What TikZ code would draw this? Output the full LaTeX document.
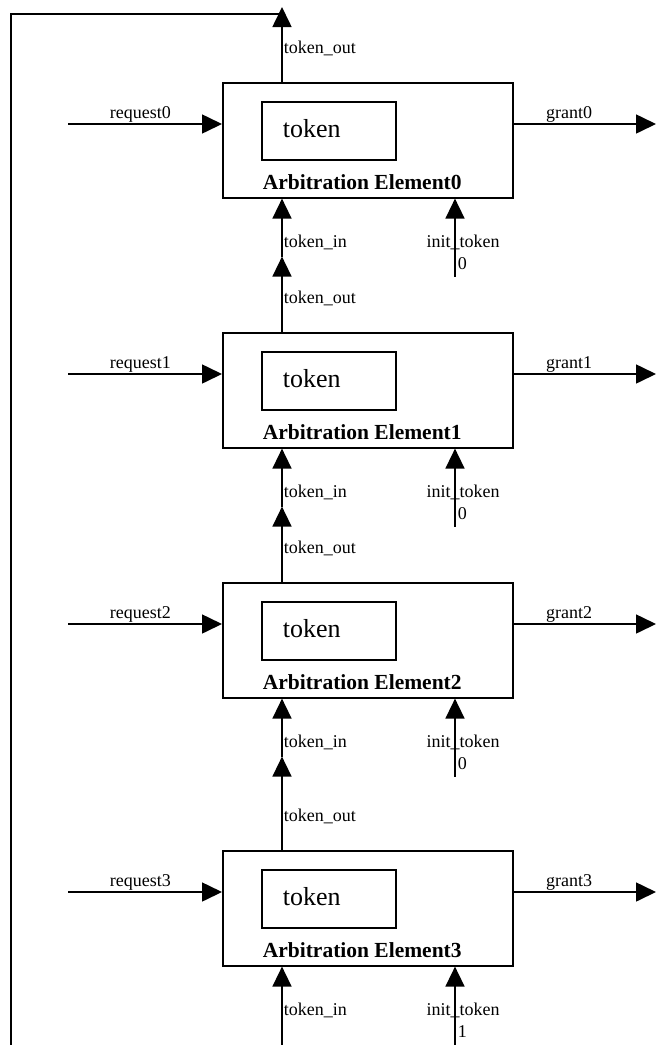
\documentclass[tikz,border=0pt]{standalone}
\usepackage{fontspec}
\setmainfont{Liberation Serif}
\usetikzlibrary{arrows.meta,positioning}
\tikzset{
  elem/.style = {draw, line width=1.6pt, minimum width=290pt,
    minimum height=115pt, inner sep=0pt},% arbitration element
  tokbox/.style = {draw, line width=1.6pt, minimum width=134pt,
    minimum height=58pt, inner sep=0pt},% token register
  lbl/.style = {inner sep=0pt, font=\fontsize{18}{20}\selectfont},% signal names
  toktxt/.style = {inner sep=0pt, font=\fontsize{26}{28}\selectfont},
  aetxt/.style = {inner sep=0pt, font=\fontsize{21.5}{24}\selectfont\bfseries}
}
\begin{document}
\begin{tikzpicture}[x=1pt,y=-1pt,line width=1.6pt,
  >={Triangle[length=20pt,width=19pt]}]
\useasboundingbox (0,0) rectangle (656,1045);
\foreach \n/\y/\init/\tin in {0/82/0/58,1/332/0/58,2/582/0/58,3/850/1/80}{
  \node[elem, anchor=north west] (ae\n) at (222,\y) {};
  \node[tokbox, anchor=north west] (tok\n) at ([shift={(39,19)}]ae\n.north west) {};
  \node[toktxt, anchor=base west] (tt\n) at ([shift={(21,36)}]tok\n.north west) {token};
  \node[aetxt, anchor=base west] (an\n) at ([shift={(40,-9)}]ae\n.south west) {Arbitration Element\n};
  % request and grant
  \coordinate (rq\n) at (68,\y+42);
  \coordinate (gr\n) at (656,\y+42);
  \draw[->] (rq\n) -- node[lbl, pos=0.47, anchor=base, yshift=6pt] {request\n} (rq\n -| ae\n.west);
  \draw[->] (rq\n -| ae\n.east) -- node[lbl, pos=0.39, anchor=base, yshift=6pt] {grant\n} (gr\n);
  % token in
  \coordinate (ti\n) at ([shift={(60,\tin)}]ae\n.south west);
  \draw[->] (ti\n) -- (ti\n |- ae\n.south);
  \node[lbl, anchor=base west] (til\n) at ([shift={(61,49)}]ae\n.south west) {token\_in};
  \node[lbl, anchor=base west] (tol\n) at ([shift={(61,-29)}]ae\n.north west) {token\_out};
  % init token
  \coordinate (it\n) at ([shift={(233,78)}]ae\n.south west);
  \draw[->] (it\n) -- (it\n |- ae\n.south);
  \node[lbl, anchor=base] (il\n) at ([shift={(233,49)}]ae\n.south west) {\llap{init}\_\rlap{token}};
  \node[lbl, anchor=base west] (iv\n) at ([shift={(235,71)}]ae\n.south west) {\init};
}
% token ring
\coordinate (top) at (282,7);
\coordinate (fb) at (11,14);
\coordinate (fbb) at (11,1045);
\draw[->] (ae1.north -| ti0) -- (ti0);
\draw[->] (ae2.north -| ti1) -- (ti1);
\draw[->] (ae3.north -| ti2) -- (ti2);
\draw[->] (ae0.north -| ti0) -- (top);
\draw (fbb) -- (fb) -- (fb -| top);
\end{tikzpicture}
\end{document}
